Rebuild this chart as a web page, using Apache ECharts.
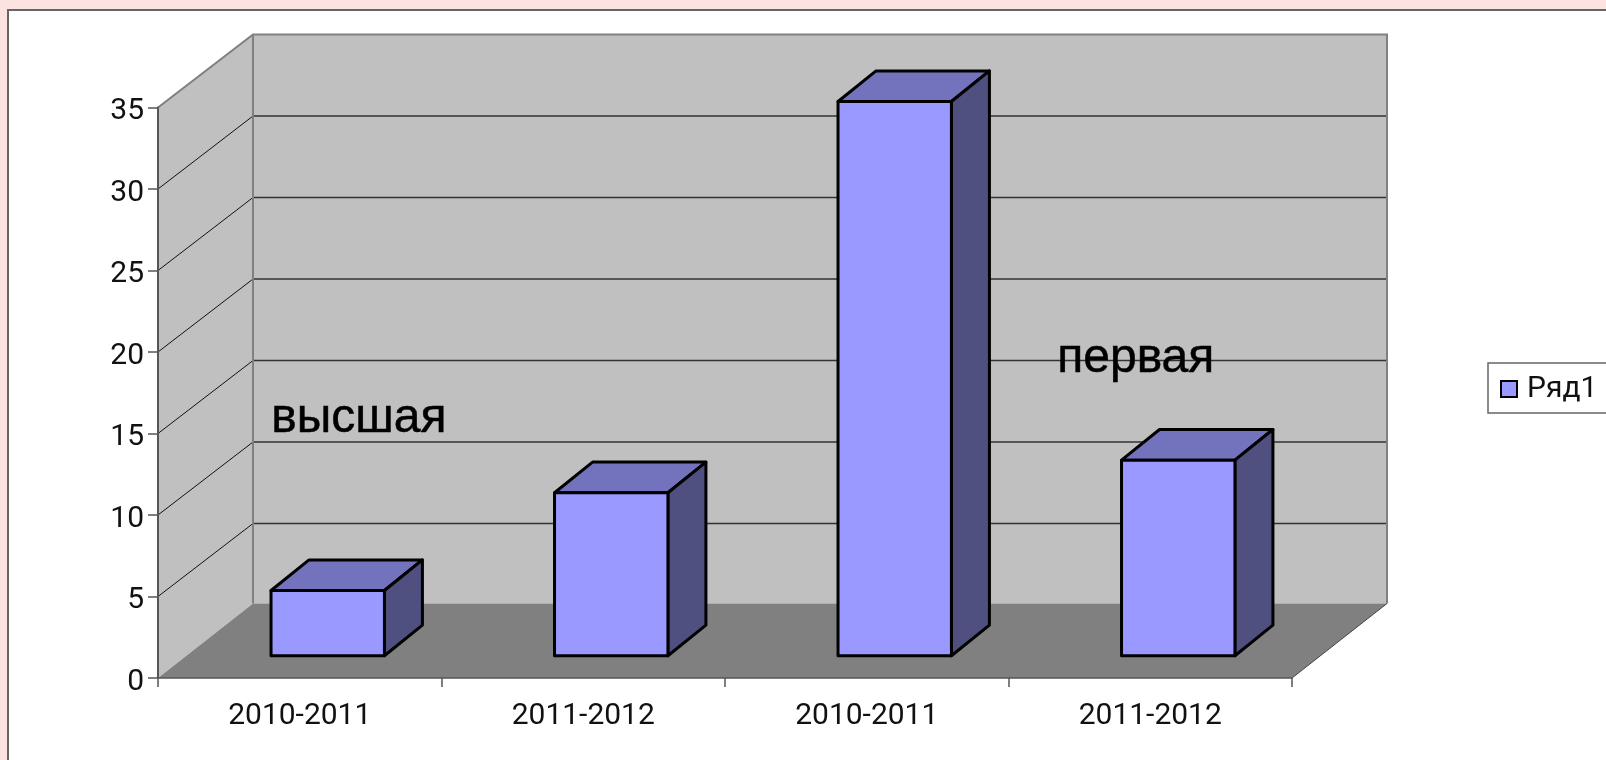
<!DOCTYPE html>
<html><head><meta charset="utf-8">
<script src="https://cdn.jsdelivr.net/npm/echarts@6/dist/echarts.min.js"></script>
<style>
html,body{margin:0;padding:0;background:#FDE3DF;width:1606px;height:760px;overflow:hidden}
#panel{position:absolute;left:7px;top:9px;width:1599px;height:751px;background:#fff;border-left:2px solid #666;border-top:2px solid #666;box-sizing:border-box}
#c{position:absolute;left:0;top:0;width:1606px;height:760px}
</style></head><body>
<div id="panel"></div><div id="c"></div>
<script>
const categories = ['2010-2011','2011-2012','2010-2011','2011-2012'];
const values = [4, 10, 34, 12];
const seriesName = 'Ряд1';
const yTicks = [5,10,15,20,25,30];
const yMax = 35;
const DX = 95, DY = -73, DY_FLOOR = -74.5; // oblique projection of the chart depth
const BAR_OFF = 0.305, BAR_DEPTH_X = 0.40, BAR_DEPTH_Y = 0.42, BAR_W = 0.40;
const FONT = 'Roboto';
const chart = echarts.init(document.getElementById('c'), null, {renderer:'canvas'});
const pts = a => a.map(p => [p[0], p[1]]);
function renderWalls(params, api){
  const g = params.coordSys;
  const x0 = g.x, x1 = g.x + g.width;
  const y0 = api.coord([0,0])[1], yT = api.coord([0,yMax])[1];
  const kids = [];
  const yb = y0+DY_FLOOR, yt = yT+DY;
  kids.push({type:'polygon',shape:{points:pts([[x0,y0],[x0+DX,yb],[x0+DX,yt],[x0,yT]])},style:{fill:'#C0C0C0',stroke:null}});
  kids.push({type:'polygon',shape:{points:pts([[x0+DX,yb],[x1+DX,yb],[x1+DX,yt],[x0+DX,yt]])},style:{fill:'#C0C0C0',stroke:null}});
  kids.push({type:'polygon',shape:{points:pts([[x0,y0],[x1,y0],[x1+DX,yb],[x0+DX,yb]])},style:{fill:'#808080',stroke:null}});
  yTicks.forEach(t=>{
    const y = api.coord([0,t])[1];
    kids.push({type:'polyline',shape:{points:pts([[x0,y],[x0+DX,y+DY]])},style:{fill:null,stroke:'#111',lineWidth:1}});
    kids.push({type:'line',shape:{x1:x0+DX,y1:y+DY,x2:x1+DX,y2:y+DY},style:{stroke:'#333',lineWidth:1.5}});
  });
  const edge={fill:null,stroke:'#808080',lineWidth:2};
  kids.push({type:'polyline',shape:{points:pts([[x0,yT],[x0+DX,yt],[x1+DX,yt],[x1+DX,yb]])},style:edge});
  kids.push({type:'line',shape:{x1:x0+DX,y1:yt,x2:x0+DX,y2:yb},style:{stroke:'#808080',lineWidth:2}});
  kids.push({type:'line',shape:{x1:x1,y1:y0,x2:x1+DX,y2:yb},style:{stroke:'#444',lineWidth:1}});
  return {type:'group',children:kids};
}
function renderBar(params, api){
  const idx = api.value(0), v = api.value(1);
  const band = api.size([1,0])[0];
  const c = api.coord([idx,v]), b = api.coord([idx,0]);
  const ox = BAR_OFF*DX, oy = BAR_OFF*DY, dx = BAR_DEPTH_X*DX, dy = BAR_DEPTH_Y*DY;
  const w = band*BAR_W;
  const l = c[0]-w/2+ox-1, r = c[0]+w/2+ox-1, t = c[1]+oy, bt = b[1]+oy;
  const st = {stroke:'#000',lineWidth:3,lineJoin:'round'};
  return {type:'group',children:[
    {type:'polygon',shape:{points:pts([[l,t],[r,t],[r+dx,t+dy],[l+dx,t+dy]])},style:Object.assign({fill:'#7373BD'},st)},
    {type:'polygon',shape:{points:pts([[r,t],[r+dx,t+dy],[r+dx,bt+dy],[r,bt]])},style:Object.assign({fill:'#4F4F80'},st)},
    {type:'polygon',shape:{points:pts([[l,t],[r,t],[r,bt],[l,bt]])},style:Object.assign({fill:'#9999FF'},st)}
  ]};
}
chart.setOption({
  animation:false,
  backgroundColor:'transparent',
  grid:{left:158,right:314,top:107.5,bottom:82,containLabel:false},
  xAxis:{type:'category',data:categories,z:5,
    axisLine:{show:true,lineStyle:{color:'#555',width:1.5}},
    axisTick:{show:true,length:9,alignWithLabel:false,lineStyle:{color:'#555',width:1.5}},
    axisLabel:{fontFamily:FONT,fontSize:30,color:'#111',margin:23},
    splitLine:{show:false}},
  yAxis:{type:'value',min:0,max:yMax,interval:5,z:5,
    axisLine:{show:true,lineStyle:{color:'#555',width:2}},
    axisTick:{show:true,length:10,lineStyle:{color:'#555',width:1.5}},
    axisLabel:{fontFamily:FONT,fontSize:30,color:'#111',margin:14,verticalAlign:'top',padding:[-11,0,0,0]},
    splitLine:{show:false}},
  legend:{show:true,left:1488,top:363,orient:'vertical',
    data:[{name:seriesName,icon:'rect',itemStyle:{color:'#9999FF',borderColor:'#000',borderWidth:2}}],
    itemWidth:16,itemHeight:16,itemGap:0,padding:[11,10,9,12],
    backgroundColor:'#fff',borderColor:'#666',borderWidth:1.5,
    textStyle:{fontFamily:FONT,fontSize:30,color:'#111',padding:[3,0,0,5]}},
  graphic:[
    {type:'text',z:20,left:271,top:395,style:{text:'высшая',fontFamily:'Liberation Sans',fontSize:48,fill:'#000',stroke:'#000',lineWidth:0.5}},
    {type:'text',z:20,left:1057,top:335,style:{text:'первая',fontFamily:'Liberation Sans',fontSize:48,fill:'#000',stroke:'#000',lineWidth:0.5}}
  ],
  series:[
    {type:'custom',silent:true,z:1,clip:false,renderItem:renderWalls,encode:{x:0,y:1},data:[[0,0]]},
    {type:'custom',name:seriesName,z:3,clip:false,renderItem:renderBar,encode:{x:0,y:1},
      itemStyle:{color:'#9999FF'},
      data:values.map((v,i)=>[i,v])}
  ]
});
</script></body></html>
